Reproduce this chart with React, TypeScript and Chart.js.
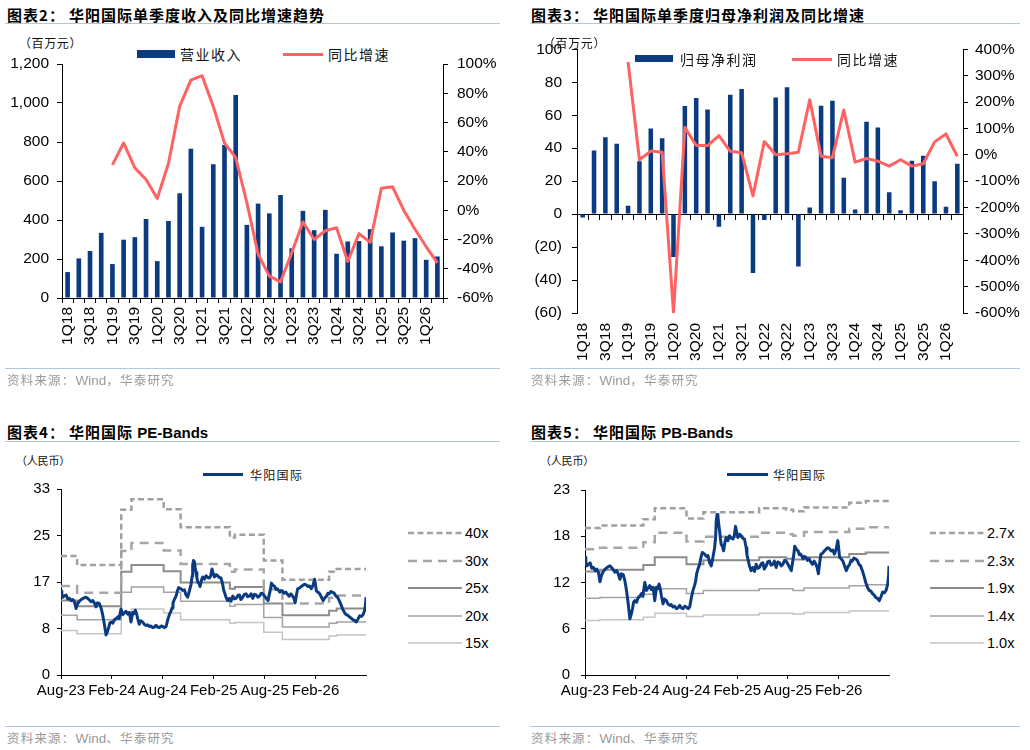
import React, { useEffect, useRef } from 'react';
import { Chart, registerables } from 'chart.js';

Chart.register(...registerables);

// ---------------- data ----------------
const quarters = ['1Q18','2Q18','3Q18','4Q18','1Q19','2Q19','3Q19','4Q19','1Q20','2Q20','3Q20','4Q20','1Q21','2Q21','3Q21','4Q21','1Q22','2Q22','3Q22','4Q22','1Q23','2Q23','3Q23','4Q23','1Q24','2Q24','3Q24','4Q24','1Q25','2Q25','3Q25','4Q25','1Q26','2Q26'];

// 营业收入 (百万元)
const revenue = [133, 203, 241, 334, 174, 299, 312, 405, 189, 395, 537, 766, 365, 686, 785, 1041, 375, 484, 434, 528, 255, 447, 348, 452, 227, 290, 292, 353, 265, 336, 294, 307, 196, 213];
// 营业收入同比 (%)
const revenueGrowth = [null, null, null, null, 31, 46, 29, 21, 8, 32, 71, 89, 92, 71, 46, 36, 5, -30, -45, -49, -29, -8, -20, -14, -12, -35, -16, -22, 15, 16, 0, -13, -25, -36];

// 归母净利润 (百万元)
const netProfit = [-2, 38.6, 46.7, 42.7, 5, 32, 52, 46, -26, 65.6, 70.4, 63.4, -7.6, 72.4, 75.9, -35.8, -3.6, 70.8, 76.9, -31.8, 4, 65.8, 68.8, 22, 2.8, 56, 52.5, 13.3, 2.4, 32.4, 35.4, 20, 4.4, 30.6];
// 归母净利润同比 (%)
const netProfitGrowth = [null, null, null, null, 352, -19, 14, 10, -598, 104, 35, 35, 73, 13, 8, -156, 50, 0, 4, 10, 209, -6, -11, 170, -28, -14, -24, -43, -19, -43, -34, 49, 79, -6];

// time axis (months since Aug-23)
const dateTickLabels = ['Aug-23', 'Feb-24', 'Aug-24', 'Feb-25', 'Aug-25', 'Feb-26'];
const seriesEndMonth = 35.95;

// 华阳国际 share price (人民币)
const priceMonths = [0, 0.1, 0.2, 0.4, 0.6, 0.8, 1.0, 1.2, 1.4, 1.6, 1.77, 1.95, 2.16, 2.4, 2.6, 2.75, 2.95, 3.14, 3.35, 3.54, 3.75, 3.93, 4.13, 4.3, 4.52, 4.72, 4.91, 5.11, 5.31, 5.45, 5.62, 5.75, 5.89, 6.1, 6.29, 6.5, 6.68, 6.85, 7.07, 7.27, 7.45, 7.66, 7.85, 8.06, 8.25, 8.45, 8.6, 8.76, 8.9, 9.04, 9.23, 9.4, 9.63, 9.8, 10.02, 10.2, 10.41, 10.6, 10.81, 11.0, 11.2, 11.4, 11.59, 11.8, 11.99, 12.2, 12.38, 12.58, 12.77, 12.95, 13.09, 13.2, 13.36, 13.56, 13.7, 13.87, 14.0, 14.15, 14.35, 14.54, 14.74, 14.93, 15.13, 15.33, 15.45, 15.52, 15.62, 15.72, 15.82, 15.92, 16.02, 16.11, 16.25, 16.39, 16.55, 16.7, 16.9, 17.1, 17.3, 17.49, 17.65, 17.8, 17.95, 18.08, 18.3, 18.47, 18.65, 18.86, 19.06, 19.15, 19.26, 19.45, 19.65, 19.85, 20.05, 20.24, 20.45, 20.63, 20.85, 21.03, 21.2, 21.42, 21.6, 21.81, 22.0, 22.21, 22.4, 22.6, 22.8, 23.0, 23.2, 23.4, 23.6, 23.8, 24.0, 24.2, 24.4, 24.55, 24.7, 24.8, 25.0, 25.2, 25.35, 25.5, 25.65, 25.8, 25.95, 26.1, 26.3, 26.5, 26.7, 26.9, 27.1, 27.3, 27.45, 27.6, 27.75, 27.9, 28.1, 28.3, 28.5, 28.7, 28.9, 29.1, 29.3, 29.5, 29.7, 29.9, 30.0, 30.1, 30.3, 30.5, 30.7, 30.9, 31.1, 31.3, 31.45, 31.6, 31.8, 32.0, 32.2, 32.4, 32.6, 32.8, 33.0, 33.2, 33.4, 33.6, 33.8, 34.0, 34.2, 34.4, 34.6, 34.8, 35.0, 35.2, 35.4, 35.6, 35.8, 35.9, 35.95];
const priceValues = [14.9, 14.3, 13.8, 14.0, 14.2, 13.5, 13.6, 13.2, 13.4, 12.9, 11.8, 12.6, 13.1, 13.4, 13.6, 13.7, 13.8, 13.6, 13.3, 13.0, 13.2, 12.8, 12.1, 12.8, 12.7, 11.9, 10.7, 9.0, 7.1, 7.6, 8.4, 9.2, 9.4, 9.2, 9.8, 10.0, 10.3, 10.0, 11.7, 10.7, 11.0, 11.3, 10.8, 11.1, 9.4, 11.1, 10.9, 11.5, 10.9, 10.0, 9.0, 9.6, 9.4, 9.0, 8.8, 8.9, 8.6, 8.7, 8.4, 8.5, 8.8, 8.5, 8.4, 8.7, 8.6, 8.4, 8.6, 9.8, 10.7, 11.3, 11.9, 12.8, 13.4, 14.0, 14.8, 15.5, 15.4, 15.3, 15.0, 15.1, 14.2, 13.8, 14.9, 16.1, 17.5, 19.5, 20.3, 20.1, 19.0, 18.2, 17.2, 16.5, 16.3, 15.7, 16.8, 17.4, 17.0, 17.6, 17.3, 17.2, 17.6, 18.8, 18.0, 17.4, 17.8, 17.6, 17.3, 17.2, 16.1, 15.2, 14.7, 13.8, 13.2, 13.6, 13.1, 14.0, 13.5, 13.6, 14.1, 14.2, 13.4, 13.8, 14.3, 14.4, 13.9, 14.0, 14.4, 13.6, 14.3, 14.2, 13.8, 14.0, 14.5, 14.4, 14.0, 13.6, 13.2, 14.3, 15.3, 16.3, 15.9, 15.7, 15.2, 15.3, 15.0, 14.7, 15.0, 14.9, 14.5, 14.7, 14.3, 14.0, 14.4, 14.0, 13.6, 12.8, 14.2, 15.3, 15.4, 15.7, 15.9, 16.1, 16.0, 15.7, 15.8, 15.3, 15.9, 17.0, 16.0, 14.9, 14.7, 14.4, 13.8, 13.2, 13.7, 14.0, 14.5, 14.4, 14.8, 14.7, 14.5, 14.0, 13.8, 13.2, 12.5, 11.7, 11.1, 10.7, 10.6, 10.3, 10.1, 9.8, 9.7, 9.4, 9.9, 10.5, 10.4, 10.7, 11.5, 12.6, 13.8];

// PE bands (step start months and band levels)
const peStepMonths = [0, 1.9, 7.1, 8.3, 12.1, 14.1, 19.9, 20.5, 23.9, 26.1, 31.6, 32.5];
const pe40x = [21.1, 19.5, 29.3, 31.2, 29.4, 26.2, 24.4, 24.9, 20.3, 16.9, 18.3, 18.8];
const pe30x = [15.8, 14.6, 22.0, 23.4, 22.1, 19.7, 18.3, 18.7, 15.2, 12.7, 13.7, 14.1];
const pe25x = [13.2, 12.2, 18.3, 19.5, 18.4, 16.4, 15.3, 15.6, 12.7, 10.6, 11.4, 11.8];
const pe20x = [10.6, 9.8, 14.7, 15.6, 14.7, 13.1, 12.2, 12.5, 10.2, 8.5, 9.2, 9.4];
const pe15x = [7.9, 7.3, 11.0, 11.7, 11.0, 9.8, 9.2, 9.3, 7.6, 6.3, 6.9, 7.1];
const peBandLabels = ['40x', '30x', '25x', '20x', '15x'];

// PB bands
const pbStepMonths = [0, 1.77, 6.9, 8.25, 12.0, 14.0, 20.6, 23.8, 24.6, 25.9, 31.25, 33.2];
const pb27x = [18.6, 18.9, 19.7, 21.1, 19.8, 20.6, 21.1, 20.9, 20.7, 21.2, 21.8, 22.0];
const pb23x = [15.9, 16.1, 16.8, 18.0, 16.9, 17.5, 18.0, 17.8, 17.6, 18.1, 18.5, 18.7];
const pb19x = [13.1, 13.3, 13.9, 14.9, 14.0, 14.5, 14.9, 14.7, 14.6, 14.9, 15.3, 15.5];
const pb14x = [9.7, 9.8, 10.2, 10.9, 10.3, 10.7, 10.9, 10.9, 10.7, 11.0, 11.3, 11.4];
const pb10x = [6.9, 7.0, 7.3, 7.8, 7.4, 7.6, 7.8, 7.8, 7.7, 7.9, 8.1, 8.1];
const pbBandLabels = ['2.7x', '2.3x', '1.9x', '1.4x', '1.0x'];

// ---------------- styles ----------------
const NAVY = '#0A3A80';
const RED = '#FF6262';
const LATIN = '"Liberation Sans", Arial, sans-serif';
const CJK = '"Noto Sans CJK SC", "Noto Sans", sans-serif';
const RULE = '#B4C6DA';
const bandStyles = [
  { color: '#A0A0A0', width: 2.5, dash: [6, 3.5] },
  { color: '#A6A6A6', width: 2.5, dash: [9, 6] },
  { color: '#8C8C8C', width: 2, dash: [] as number[] },
  { color: '#A3A3A3', width: 1.5, dash: [] as number[] },
  { color: '#C4C4C4', width: 1.5, dash: [] as number[] },
];

const font = (size: number) => ({ family: LATIN, size });

const yAxisBase = (width: number, padding: number, size: number) => ({
  grid: { display: true, drawOnChartArea: false, drawTicks: true, tickLength: 5, color: '#000' },
  border: { display: true, color: '#000' },
  afterFit: (s: any) => { s.width = width; },
  ticks: { color: '#000', padding, font: font(size) },
});

function topLeftConfig(): any {
  const yL: any = yAxisBase(62, 8, 15.5);
  const yR: any = yAxisBase(57, 9, 15.5);
  return {
    type: 'bar',
    data: {
      labels: quarters,
      datasets: [
        { type: 'line', label: '同比增速', data: revenueGrowth, xAxisID: 'x', yAxisID: 'y1', borderColor: RED, backgroundColor: RED, borderWidth: 3, pointRadius: 0, tension: 0, borderJoinStyle: 'round', order: 0 },
        { type: 'bar', label: '营业收入', data: revenue, xAxisID: 'x', yAxisID: 'y', backgroundColor: NAVY, barPercentage: 0.52, categoryPercentage: 0.8, order: 1 },
      ],
    },
    options: {
      responsive: false,
      animation: false,
      layout: { padding: { top: 24, right: 0, bottom: 0, left: 0 } },
      plugins: { legend: { display: false }, tooltip: { enabled: false } },
      scales: {
        x: {
          offset: true,
          grid: { display: true, offset: true, drawOnChartArea: false, drawTicks: true, tickLength: 5, color: '#000' },
          border: { display: true, color: '#000' },
          ticks: { autoSkip: false, minRotation: 90, maxRotation: 90, padding: 4, color: '#000', font: font(15.5), callback: (_v: any, i: number) => (i % 2 === 0 ? quarters[i] : '') },
          afterFit: (s: any) => { s.height = 72; },
        },
        y: { ...yL, position: 'left', min: 0, max: 1200, ticks: { ...yL.ticks, stepSize: 200, callback: (v: number) => v.toLocaleString('en-US') } },
        y1: { ...yR, position: 'right', min: -60, max: 100, ticks: { ...yR.ticks, stepSize: 20, callback: (v: number) => `${Math.round(v)}%` } },
      },
    },
  };
}

function topRightConfig(): any {
  const yL: any = yAxisBase(57, 10, 15.5);
  const yR: any = yAxisBase(57, 7, 15.5);
  return {
    type: 'bar',
    data: {
      labels: quarters,
      datasets: [
        { type: 'line', label: '同比增速', data: netProfitGrowth, xAxisID: 'x', yAxisID: 'y1', borderColor: RED, backgroundColor: RED, borderWidth: 3, pointRadius: 0, tension: 0, borderJoinStyle: 'round', order: 0 },
        { type: 'bar', label: '归母净利润', data: netProfit, xAxisID: 'x', yAxisID: 'y', backgroundColor: NAVY, barPercentage: 0.5, categoryPercentage: 0.8, order: 1 },
      ],
    },
    options: {
      responsive: false,
      animation: false,
      layout: { padding: { top: 18, right: 0, bottom: 0, left: 0 } },
      plugins: { legend: { display: false }, tooltip: { enabled: false } },
      scales: {
        x: {
          position: { y: 0 },
          offset: true,
          grid: { display: true, offset: true, drawOnChartArea: false, drawTicks: true, tickLength: 5, color: '#000' },
          border: { display: true, color: '#000' },
          ticks: { display: false },
        },
        x2: {
          type: 'category',
          position: 'bottom',
          offset: true,
          grid: { display: false, drawTicks: false, offset: true },
          border: { display: false },
          ticks: { autoSkip: false, minRotation: 90, maxRotation: 90, padding: 10, color: '#000', font: font(15.5), callback: (_v: any, i: number) => (i % 2 === 0 ? quarters[i] : '') },
          afterFit: (s: any) => { s.height = 57; },
        },
        y: { ...yL, position: 'left', min: -60, max: 100, ticks: { ...yL.ticks, stepSize: 20, callback: (v: number) => (v < 0 ? `(${Math.abs(Math.round(v))})` : `${Math.round(v)}`) } },
        y1: { ...yR, position: 'right', min: -600, max: 400, ticks: { ...yR.ticks, stepSize: 100, callback: (v: number) => `${Math.round(v)}%` } },
      },
    },
  };
}

const stepPoints = (months: number[], values: number[]) =>
  months.map((m, i) => ({ x: m, y: values[i] })).concat([{ x: seriesEndMonth, y: values[values.length - 1] }]);

function bandConfig(months: number[], bands: number[][], yMax: number, yStep: number, yAxisWidth: number, yPad: number, rightPad: number): any {
  const pricePts = priceMonths.map((m, i) => ({ x: m, y: priceValues[i] }));
  return {
    type: 'line',
    data: {
      datasets: [
        { label: '华阳国际', data: pricePts, borderColor: NAVY, borderWidth: 3, pointRadius: 0, tension: 0, borderJoinStyle: 'round', order: 0 },
        ...bands.map((b, i) => ({
          label: `band${i}`,
          data: stepPoints(months, b),
          stepped: true,
          borderColor: bandStyles[i].color,
          borderWidth: bandStyles[i].width,
          borderDash: bandStyles[i].dash,
          pointRadius: 0,
          order: i + 1,
        })),
      ],
    },
    options: {
      responsive: false,
      animation: false,
      layout: { padding: { top: 19, right: rightPad, bottom: 0, left: 0 } },
      plugins: { legend: { display: false }, tooltip: { enabled: false } },
      scales: {
        x: {
          type: 'linear',
          min: 0,
          max: seriesEndMonth,
          grid: { display: true, drawOnChartArea: false, drawTicks: true, tickLength: 4, color: '#000' },
          border: { display: true, color: '#000' },
          ticks: { stepSize: 6, includeBounds: false, autoSkip: false, maxRotation: 0, padding: 3, color: '#000', font: font(15), callback: (v: number) => dateTickLabels[Math.round(v / 6)] ?? '' },
          afterFit: (s: any) => { s.height = 35; },
        },
        y: {
          position: 'left',
          min: 0,
          max: yMax,
          grid: { display: true, drawOnChartArea: false, drawTicks: true, tickLength: 4, color: '#000' },
          border: { display: true, color: '#000' },
          ticks: { stepSize: yStep, color: '#000', padding: yPad, font: font(15), callback: (v: number) => `${Math.round(v)}` },
          afterFit: (s: any) => { s.width = yAxisWidth; },
        },
      },
    },
  };
}

// ---------------- components ----------------
function ChartBox({ left, top, width, height, build }: any) {
  const ref = useRef<HTMLCanvasElement>(null);
  useEffect(() => {
    const chart = new Chart(ref.current as HTMLCanvasElement, build());
    return () => chart.destroy();
  }, []);
  return <canvas ref={ref} width={width} height={height} style={{ position: 'absolute', left, top, width, height }} />;
}

function T({ x, y, size = 13, children, style }: any) {
  const lh = Math.round(size * 1.4);
  return (
    <div style={{ position: 'absolute', left: x, top: y - lh / 2, height: lh, lineHeight: `${lh}px`, fontSize: size, whiteSpace: 'nowrap', fontFamily: CJK, color: '#111', ...style }}>
      {children}
    </div>
  );
}

function Rule({ x1, x2, y }: any) {
  return <div style={{ position: 'absolute', left: x1, top: y, width: x2 - x1, height: 1, background: RULE }} />;
}

function Swatch({ x1, x2, y, h, color }: any) {
  return <div style={{ position: 'absolute', left: x1, top: y - h / 2, width: x2 - x1, height: h, background: color }} />;
}

const legendRowYs = [533, 560.5, 588, 615.5, 643];

function BandLegend({ x, labels }: any) {
  return (
    <>
      {labels.map((lab: string, i: number) => (
        <React.Fragment key={lab}>
          <svg style={{ position: 'absolute', left: x, top: legendRowYs[i] - 4, width: 54, height: 8 }}>
            <line x1={0} y1={4} x2={54} y2={4} stroke={bandStyles[i].color} strokeWidth={bandStyles[i].width} strokeDasharray={bandStyles[i].dash.length ? bandStyles[i].dash.join(' ') : undefined} />
          </svg>
          <T x={x + 57} y={legendRowYs[i]} size={14.5} style={{ fontFamily: LATIN, color: '#000' }}>{lab}</T>
        </React.Fragment>
      ))}
    </>
  );
}

function Title({ x, y, num, children }: any) {
  return (
    <T x={x} y={y} size={15} style={{ fontWeight: 700, letterSpacing: 1, color: '#000' }}>
      图表{num}：<span style={{ marginLeft: 4 }}>{children}</span>
    </T>
  );
}

function Source({ x, y, sep }: any) {
  return (
    <T x={x} y={y} size={12.5} style={{ color: '#9A9A9A', letterSpacing: 1.2 }}>
      资料来源：<span style={{ fontFamily: LATIN, fontSize: 13.5, letterSpacing: 0 }}>Wind</span>{sep}华泰研究
    </T>
  );
}

export default function App() {
  return (
    <div style={{ position: 'fixed', left: 0, top: 0, width: 1030, height: 750, background: '#fff', overflow: 'hidden' }}>
      {/* ---------- top-left ---------- */}
      <Title x={7} y={14} num="2">华阳国际单季度收入及同比增速趋势</Title>
      <Rule x1={5} x2={500} y={23} />
      <T x={19} y={42} size={12} style={{ letterSpacing: 0.6 }}>（百万元）</T>
      <Swatch x1={137} x2={175} y={54} h={7.5} color={NAVY} />
      <T x={180} y={54} size={14} style={{ letterSpacing: 1.5 }}>营业收入</T>
      <Swatch x1={283} x2={323} y={54} h={3} color={RED} />
      <T x={328} y={54} size={14} style={{ letterSpacing: 1.5 }}>同比增速</T>
      <ChartBox left={0} top={40} width={500} height={330} build={topLeftConfig} />
      <Rule x1={5} x2={500} y={368} />
      <Source x={7} y={380} sep="，" />

      {/* ---------- top-right ---------- */}
      <Title x={531} y={14} num="3">华阳国际单季度归母净利润及同比增速</Title>
      <Rule x1={530} x2={1020} y={23} />
      <ChartBox left={520} top={30} width={500} height={340} build={topRightConfig} />
      <T x={543} y={42} size={12} style={{ letterSpacing: 0.6 }}>（百万元）</T>
      <Swatch x1={635} x2={673} y={58.5} h={7.5} color={NAVY} />
      <T x={680} y={59} size={14} style={{ letterSpacing: 1.5 }}>归母净利润</T>
      <Swatch x1={792} x2={832} y={59} h={3} color={RED} />
      <T x={837} y={59} size={14} style={{ letterSpacing: 1.5 }}>同比增速</T>
      <Rule x1={530} x2={1020} y={368} />
      <Source x={531} y={380} sep="，" />

      {/* ---------- bottom-left ---------- */}
      <Title x={7} y={431} num="4">华阳国际 <span style={{ fontFamily: LATIN, letterSpacing: 0 }}>PE-Bands</span></Title>
      <Rule x1={5} x2={500} y={441} />
      <T x={16} y={460} size={11} style={{ letterSpacing: -0.2 }}>（人民币）</T>
      <Swatch x1={203} x2={243} y={474} h={3} color={NAVY} />
      <T x={250} y={474} size={12} style={{ letterSpacing: 1.3 }}>华阳国际</T>
      <ChartBox left={0} top={470} width={400} height={240} build={() => bandConfig(peStepMonths, [pe40x, pe30x, pe25x, pe20x, pe15x], 33, 8.25, 61, 7, 34)} />
      <BandLegend x={408} labels={peBandLabels} />
      <Rule x1={5} x2={500} y={726} />
      <Source x={7} y={738} sep="、" />

      {/* ---------- bottom-right ---------- */}
      <Title x={531} y={431} num="5">华阳国际 <span style={{ fontFamily: LATIN, letterSpacing: 0 }}>PB-Bands</span></Title>
      <Rule x1={530} x2={1020} y={441} />
      <T x={540} y={460} size={11} style={{ letterSpacing: -0.2 }}>（人民币）</T>
      <Swatch x1={727} x2={768} y={474} h={3} color={NAVY} />
      <T x={773} y={474} size={12} style={{ letterSpacing: 1.3 }}>华阳国际</T>
      <ChartBox left={520} top={470} width={400} height={240} build={() => bandConfig(pbStepMonths, [pb27x, pb23x, pb19x, pb14x, pb10x], 23.4, 5.85, 65, 11, 31)} />
      <BandLegend x={930} labels={pbBandLabels} />
      <Rule x1={530} x2={1020} y={726} />
      <Source x={531} y={738} sep="、" />
    </div>
  );
}
